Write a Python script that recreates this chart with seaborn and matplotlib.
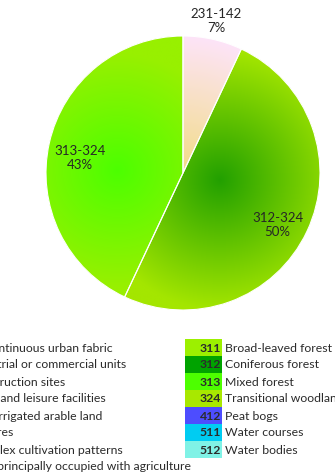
import numpy as np
import matplotlib
matplotlib.use("Agg")
import matplotlib.pyplot as plt
from matplotlib.colors import to_rgb
from matplotlib.patches import Rectangle
import seaborn as sns

# Pie slices: land-cover change classes and their shares (%)
slice_labels = ["231-142", "312-324", "313-324"]
slice_shares = [7, 50, 43]
# inner / outer colours of each slice's radial gradient
slice_inner = ["#f2dc86", "#22a000", "#4cff00"]
slice_outer = ["#fde4f8", "#a4e600", "#98f000"]

# CORINE legend, left column
left_codes = ["112", "121", "133", "142", "211", "231", "242", "243"]
left_names = ["Discontinuous urban fabric", "Industrial or commercial units",
              "Construction sites", "Sport and leisure facilities",
              "Non-irrigated arable land", "Pastures",
              "Complex cultivation patterns",
              "Land principally occupied with agriculture"]
left_colors = ["#ff0000", "#cc4df2", "#ff4dff", "#ffe6ff",
               "#ffffa8", "#e6e64d", "#ffe64d", "#e6cc4d"]

# CORINE legend, right column
right_codes = ["311", "312", "313", "324", "412", "511", "512"]
right_names = ["Broad-leaved forest", "Coniferous forest", "Mixed forest",
               "Transitional woodland-shrub", "Peat bogs", "Water courses",
               "Water bodies"]
right_colors = ["#9cf000", "#00a300", "#4dff00", "#a8e800",
                "#4d4dff", "#00ccf2", "#80f2e6"]

sns.set_theme(style="white")
plt.rcParams["font.family"] = ["Lato", "DejaVu Sans"]

W, H = 335, 475
fig = plt.figure(figsize=(W / 100, H / 100), dpi=100)
fig.patch.set_facecolor("white")

# ---- pie ----
cx_px, cy_px, r_px = 183, 173, 137
ax = fig.add_axes([(cx_px - r_px) / W, 1 - (cy_px + r_px) / H,
                   2 * r_px / W, 2 * r_px / H])
ax.set_facecolor("none")

wedges, _ = ax.pie(slice_shares, startangle=90, counterclock=False,
                   colors=slice_outer, radius=1,
                   wedgeprops=dict(linewidth=0, zorder=1))

grad_centers = [(0.0, 0.0), (0.27, -0.05), (-0.48, 0.02)]
grad_radius = [1.0, 0.95, 0.85]
n = 500
xs = np.linspace(-1.02, 1.02, n)
X, Y = np.meshgrid(xs, xs)
for w, c0, c1, (gx, gy), gr in zip(wedges, slice_inner, slice_outer,
                                   grad_centers, grad_radius):
    d = np.clip(np.hypot(X - gx, Y - gy) / gr, 0, 1)[..., None]
    img = np.array(to_rgb(c0)) * (1 - d) + np.array(to_rgb(c1)) * d
    im = ax.imshow(img, extent=(-1.02, 1.02, -1.02, 1.02), origin="lower",
                   interpolation="bilinear", zorder=2)
    im.set_clip_path(w)

# thin white slice borders
ax.pie(slice_shares, startangle=90, counterclock=False, radius=1,
       colors=["none"] * 3,
       wedgeprops=dict(edgecolor="white", linewidth=0.8, zorder=3))

label_pos = [(0.24, 1.11), (0.69, -0.38), (-0.75, 0.11)]
for lab, share, (lx, ly) in zip(slice_labels, slice_shares, label_pos):
    ax.text(lx, ly, f"{lab}\n{share}%", ha="center", va="center",
            fontsize=9.5, color="#262626", linespacing=1.2, zorder=5,
            clip_on=False)

ax.set_xlim(-1, 1)
ax.set_ylim(-1, 1)
ax.set_aspect("equal")
ax.axis("off")

# ---- legend (pixel coordinates) ----
lg = fig.add_axes([0, 0, 1, 1])
lg.set_xlim(0, W)
lg.set_ylim(H, 0)
lg.axis("off")
lg.set_facecolor("none")

row_h = 17
top = 339
txt_kw = dict(fontsize=8.8, color="#2b2b2b", va="center")

left_sw_x, left_txt_x = -75, -32
for i, (code, name, col) in enumerate(zip(left_codes, left_names, left_colors)):
    y0 = top + i * row_h
    lg.add_patch(Rectangle((left_sw_x, y0), 37, row_h, facecolor=col,
                           edgecolor="none"))
    lg.text(left_sw_x + 36, y0 + row_h / 2 + 0.5, code, ha="right",
            fontweight="bold", **txt_kw)
    lg.text(left_txt_x, y0 + row_h / 2 + 0.5, name, ha="left", **txt_kw)

right_sw_x, right_txt_x = 185, 225
for i, (code, name, col) in enumerate(zip(right_codes, right_names, right_colors)):
    y0 = top + i * row_h
    lg.add_patch(Rectangle((right_sw_x, y0), 37, row_h, facecolor=col,
                           edgecolor="none"))
    lg.text(right_sw_x + 36, y0 + row_h / 2 + 0.5, code, ha="right",
            fontweight="bold", **txt_kw)
    lg.text(right_txt_x, y0 + row_h / 2 + 0.5, name, ha="left", **txt_kw)

fig.savefig("out.png", dpi=100)
